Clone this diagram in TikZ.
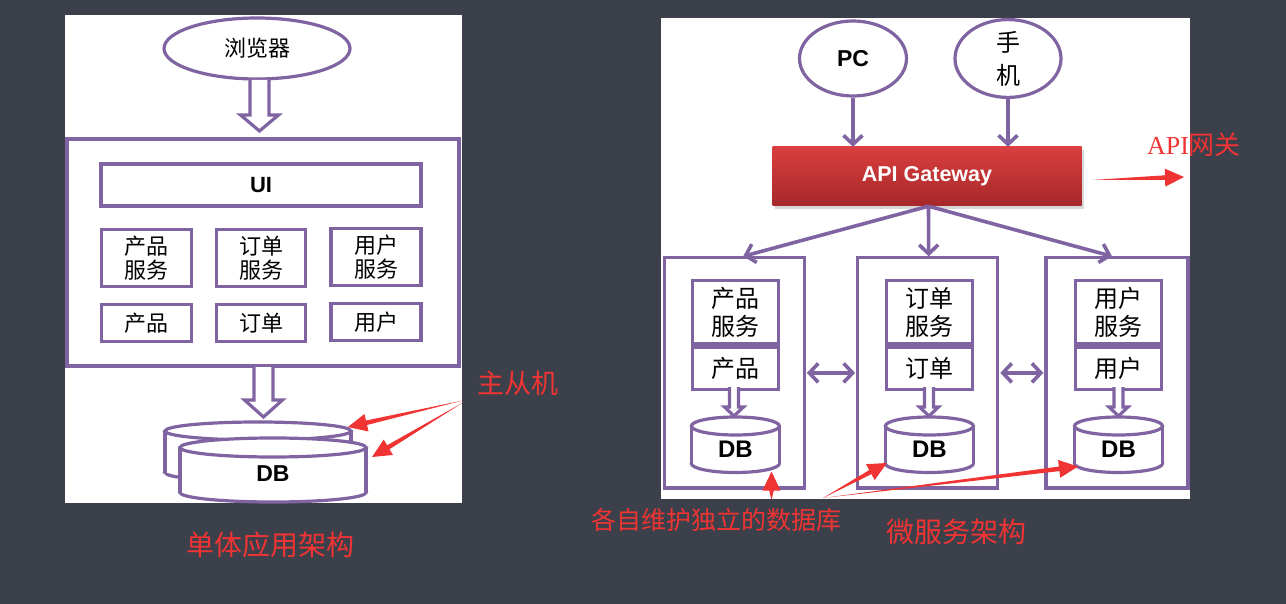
\documentclass[tikz,border=0pt]{standalone}
\usepackage{fontspec}
\setmainfont{Liberation Sans}
\newfontfamily\cjk{Noto Sans CJK SC}
\newfontfamily\serifA{Liberation Serif}
\usetikzlibrary{arrows.meta,calc,shadows,shapes.geometric}
\definecolor{bg}{RGB}{60,64,74}
\definecolor{pur}{RGB}{128,100,162}
\definecolor{annred}{RGB}{240,52,52}
\definecolor{gwtop}{RGB}{218,62,62}
\definecolor{gwbot}{RGB}{166,40,42}
\tikzset{
  pline/.style={draw=pur, line width=3.2pt},
  lbox/.style={pline, fill=white, inner sep=0pt, align=center, font=\cjk\fontsize{22}{24}\selectfont},
  rbox/.style={pline, fill=white, inner sep=0pt, align=center, font=\cjk\fontsize{24}{28}\selectfont},
  ell/.style={pline, fill=white, ellipse, inner sep=0pt, align=center},
  parrow/.style={pur, line width=3.6pt, -{Straight Barb[length=9pt,width=19pt]}},
  pdarrow/.style={pur, line width=3.6pt, {Straight Barb[length=9pt,width=19pt]}-{Straight Barb[length=9pt,width=19pt]}},
  anntext/.style={text=annred, inner sep=0pt},
  dbtext/.style={font=\bfseries\fontsize{23}{24}\selectfont, inner sep=0pt}
}
\newcommand\hollowarr[6]{%
  \draw[pline, fill=white, line join=miter] (#1-#5,#2) -- (#1-#5,#3) -- (#1-#6,#3) -- (#1,#4) -- (#1+#6,#3) -- (#1+#5,#3) -- (#1+#5,#2);}
\newcommand\cyl[5]{%
  \draw[pline, fill=white] (#1,#3) ellipse [x radius=#4, y radius=#5];
  \fill[white] (#1-#4,#2) rectangle (#1+#4,#3);
  \draw[pline] (#1-#4,#2) -- (#1-#4,#3) (#1+#4,#2) -- (#1+#4,#3);
  \draw[pline, fill=white] (#1,#2) ellipse [x radius=#4, y radius=#5];}
\newcommand\annarrow[2]{%
  \path (#2) coordinate (aT) ($(#2)!19pt!(#1)$) coordinate (aB);
  \fill[annred] (#1) -- ($(aB)!2.3pt!90:(aT)$) -- ($(aB)!9pt!90:(aT)$) -- (aT) -- ($(aB)!9pt!-90:(aT)$) -- ($(aB)!2.3pt!-90:(aT)$) -- cycle;}
\begin{document}
\begin{tikzpicture}[x=1pt, y=-1pt]
\fill[bg] (0,0) rectangle (1286,604);
\useasboundingbox (0,0) rectangle (1286,604);
% panels
\fill[white] (65,15) rectangle (462,503);
\fill[white] (661,18) rectangle (1190,499);

% ---------- left: monolith ----------
\node[ell, minimum width=186pt, minimum height=61pt, font=\cjk\fontsize{22}{24}\selectfont] (brw) at (257,48.5) {浏览器};
\hollowarr{259.5}{80}{115}{131}{9.5}{19}
\node[lbox, minimum width=392pt, minimum height=227pt] (mono) at (263,252.5) {};
\node[lbox, minimum width=320pt, minimum height=42pt, font=\bfseries\fontsize{22}{24}\selectfont] (ui) at (261,185) {UI};
\node[lbox, minimum width=90pt, minimum height=57pt] (ls1) at (146.5,257.8) {产品\\服务};
\node[lbox, minimum width=89pt, minimum height=57pt] (ls2) at (261.2,257.8) {订单\\服务};
\node[lbox, minimum width=90pt, minimum height=57pt] (ls3) at (376,257) {用户\\服务};
\node[lbox, minimum width=90pt, minimum height=37pt] (ld1) at (146.5,322.8) {产品};
\node[lbox, minimum width=89pt, minimum height=37pt] (ld2) at (261.2,322.8) {订单};
\node[lbox, minimum width=90pt, minimum height=37pt] (ld3) at (376,322) {用户};
\hollowarr{263.5}{367}{400}{417}{9.5}{19}
\cyl{258}{431}{472.5}{93}{9}
\cyl{273}{447.5}{492.5}{93}{9.5}
\node[dbtext] (ldb) at (273,474) {DB};

% ---------- right: microservices ----------
\node[ell, minimum width=107pt, minimum height=75pt, font=\bfseries\fontsize{23}{24}\selectfont] (pc) at (853,58.5) {PC};
\node[ell, minimum width=106pt, minimum height=75pt, font=\cjk\fontsize{24}{33}\selectfont] (mob) at (1008,58.5) {手\\机};
\node[inner sep=0pt, minimum width=309pt, minimum height=59pt, top color=gwtop, bottom color=gwbot, draw=none,
      drop shadow={opacity=0.3, shadow xshift=2pt, shadow yshift=-3pt},
      text=white, font=\bfseries\fontsize{21.5}{22}\selectfont] (gw) at (927,176.5) {API Gateway};
\draw[parrow] (pc.south) -- (pc.south |- gw.north);
\draw[parrow] (mob.south) -- (mob.south |- gw.north);

\node[rbox, minimum width=140pt, minimum height=230pt] (b1) at (734.2,372.9) {};
\node[rbox, minimum width=140pt, minimum height=230pt] (b2) at (927.7,372.9) {};
\node[rbox, minimum width=142pt, minimum height=230pt] (b3) at (1117,372.9) {};
\draw[parrow] ([xshift=1.5pt]gw.south) -- ([xshift=9pt]b1.north);
\draw[parrow] ([xshift=1.5pt]gw.south) -- ([xshift=1pt]b2.north);
\draw[parrow] ([xshift=1.5pt]gw.south) -- ([xshift=-5pt]b3.north);

\node[rbox, minimum width=86pt, minimum height=63pt] (s1) at (735.4,312.4) {产品\\服务};
\node[rbox, minimum width=86pt, minimum height=42pt, anchor=north] (d1) at (s1.south) {产品};
\node[rbox, minimum width=86pt, minimum height=63pt] (s2) at (929.4,312.4) {订单\\服务};
\node[rbox, minimum width=86pt, minimum height=42pt, anchor=north] (d2) at (s2.south) {订单};
\node[rbox, minimum width=86pt, minimum height=63pt] (s3) at (1118.4,312.4) {用户\\服务};
\node[rbox, minimum width=86pt, minimum height=42pt, anchor=north] (d3) at (s3.south) {用户};

\hollowarr{734}{387}{407}{416}{4.5}{9.5}
\hollowarr{929}{387}{407}{416}{4.5}{9.5}
\hollowarr{1118.5}{387}{407}{416}{4.5}{9.5}

\cyl{735.4}{426}{463.5}{44}{9}
\cyl{929.4}{426}{463.5}{44}{9}
\cyl{1118.5}{426}{463.5}{44}{9}
\node[dbtext, font=\bfseries\fontsize{24}{24}\selectfont] (db1) at (735.4,449) {DB};
\node[dbtext, font=\bfseries\fontsize{24}{24}\selectfont] (db2) at (929.4,449) {DB};
\node[dbtext, font=\bfseries\fontsize{24}{24}\selectfont] (db3) at (1118.5,449) {DB};

\draw[pdarrow, shorten <=1pt, shorten >=1pt] (b1.east) -- (b2.west);
\draw[pdarrow, shorten <=1pt, shorten >=1pt] (b2.east) -- (b3.west);

% ---------- annotations ----------
\node[anntext, font=\cjk\fontsize{27}{28}\selectfont] (zcj) at (518,383.5) {主从机};
\coordinate (a1s) at (463,400.5);
\coordinate (a1t) at (348,427);
\coordinate (a2s) at (463,402.5);
\coordinate (a2t) at (372,457);
\annarrow{a1s}{a1t}
\annarrow{a2s}{a2t}

\node[anntext, font=\fontsize{26}{28}\selectfont] (apil) at (1194,144.5) {{\serifA API}{\cjk 网关}};
\coordinate (a3s) at (1092,180);
\coordinate (a3t) at (1184,177);
\annarrow{a3s}{a3t}

\node[anntext, font=\cjk\fontsize{25}{28}\selectfont] (ownl) at (716,519.5) {各自维护独立的数据库};
\coordinate (a4s) at (771.5,500);
\coordinate (a4t) at (771.5,471.5);
\coordinate (a5s) at (823,498);
\coordinate (a5t) at (887,463);
\coordinate (a6t) at (1078,466.5);
\annarrow{a4s}{a4t}
\annarrow{a5s}{a5t}
\annarrow{a5s}{a6t}

\node[anntext, font=\cjk\fontsize{28}{30}\selectfont] (msl) at (956,531.5) {微服务架构};
\node[anntext, font=\cjk\fontsize{28}{30}\selectfont] (mnl) at (270,545) {单体应用架构};
\end{tikzpicture}
\end{document}
